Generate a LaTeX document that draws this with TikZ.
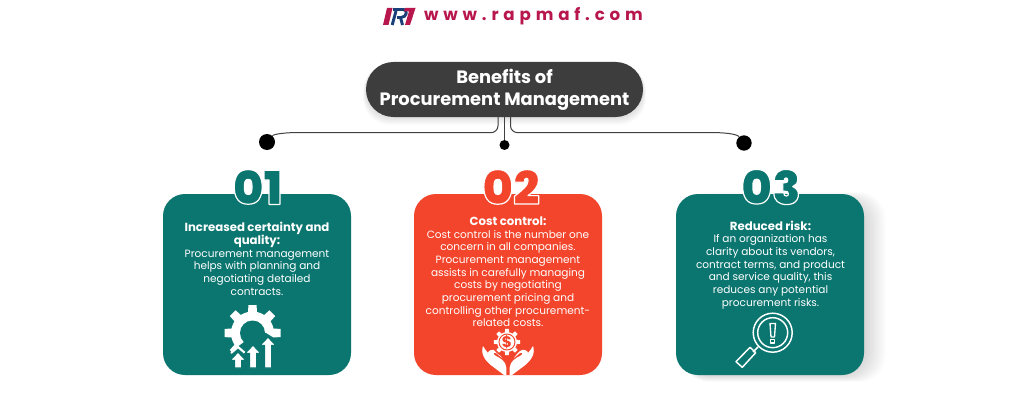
\documentclass[tikz,border=0pt]{standalone}
\usepackage{fontspec}
\setmainfont{Poppins}
\newfontfamily\numfont{Poppins Black}
\usetikzlibrary{calc}
\definecolor{tealc}{HTML}{0B7670}
\definecolor{redc}{HTML}{F2452B}
\definecolor{pillc}{HTML}{3D3D3D}
\definecolor{crim}{HTML}{B8174E}
\definecolor{navyc}{HTML}{1B3F78}
\newcommand{\outlined}[1]{\special{pdf:code 2 Tr .9 w 1 1 1 RG 1 j}#1\special{pdf:code 0 Tr 0 w}}
\newcommand{\upar}[3]{% x, top, bottom
  \fill[white,draw=tealc,line width=.9pt,line join=miter] (#1-8,#2+8.5) -- (#1,#2) -- (#1+8,#2+8.5) -- (#1+3.6,#2+8.5) -- (#1+3.6,#3) -- (#1-3.6,#3) -- (#1-3.6,#2+8.5) -- cycle;}
\newcommand{\gearshape}[5]{% cx, cy, body r, tooth r, teeth
  \fill[white] (#1,#2) circle[radius=#3];
  \foreach \a in {1,...,#5}{
    \fill[white,shift={(#1,#2)},rotate=\a*360/#5] (-#3*.26,0) -- (-#3*.19,-#4) -- (#3*.19,-#4) -- (#3*.26,0) -- cycle;}}
\tikzset{
  card/.style={rounded corners=16.5pt,minimum width=141pt,minimum height=135.75pt,inner sep=0pt},
  bodytext/.style={text=white,align=center,font=\fontsize{7.9}{9.5}\selectfont,inner sep=0pt},
  numtext/.style={font=\fontsize{35}{35}\selectfont\numfont,inner sep=0pt},
  dotn/.style={circle,fill=black,inner sep=0pt},
  conn/.style={draw=black!75,line width=.75pt},
  iconline/.style={draw=white,line width=1.1pt,line join=round},
  logostroke/.style={line width=2.2pt,line join=miter}
}
\newcommand{\hd}{\fontsize{8.8}{9.5}\selectfont\bfseries}
\begin{document}
\begin{tikzpicture}[x=.75pt,y=-.75pt]
\useasboundingbox (0,0) rectangle (1024,403);
\fill[white] (0,0) rectangle (1024,403);
% logo
\fill[crim] (383,25) -- (387,8) -- (392.5,8) -- (388.5,25) -- cycle;
\draw[navyc,logostroke] (392.2,25) -- (396,11);
\draw[navyc,logostroke] (393,9.5) -- (403.5,9.5) .. controls (408,9.5) and (407,17.5) .. (401,17.5) -- (397,17.5);
\draw[navyc,logostroke] (400.5,17.5) -- (402.5,25);
\fill[crim] (405,8) -- (415.5,8) -- (410,25) -- (405,25) -- (409,11.5) -- (404,11.5) -- cycle;
\node[inner sep=0pt,text=crim] (site) at (533.5,16) {\fontsize{12.5}{14}\selectfont\bfseries\addfontfeature{LetterSpace=29}www.rapmaf.com};
% shadows
\foreach \k in {1,...,20}{
  \fill[black,opacity=.008,rounded corners=20pt] (682,200-\k*.4) rectangle (864+\k*1.1,375+\k*.35);
}
\foreach \k in {1,...,10}{
  \fill[black,opacity=.012,rounded corners=20pt] (366-\k*.3,64) rectangle (643+\k*.3,117+\k*.8);
}
% title
\node[rounded corners=20.6pt,fill=pillc,minimum width=207.75pt,minimum height=41.25pt,inner sep=0pt,text=white,align=center,font=\fontsize{13.4}{16.5}\selectfont\bfseries] (title) at (504.5,89.5) {Benefits of\\Procurement Management};
% connectors
\node[dotn,minimum size=12pt] (dotL) at (267,142) {};
\node[dotn,minimum size=7.5pt] (dotM) at (504.5,145) {};
\node[dotn,minimum size=11.5pt] (dotR) at (744,143) {};
\coordinate (pl) at (498,117);
\coordinate (pm) at (504.5,117);
\coordinate (pr) at (510.5,117);
\draw[conn] (pl) -- ++(0,9) .. controls +(0,4) and +(2,0) .. ++(-6,6.5) -- (300,132.5) .. controls (285,132.5) and (274,134) .. (dotL);
\draw[conn] (pm) -- (dotM);
\draw[conn] (pr) -- ++(0,9) .. controls +(0,4) and +(-2,0) .. ++(6,6.5) -- (710,132.5) .. controls (725,132.5) and (737,134) .. (dotR);
% cards
\node[card,fill=tealc] (c1) at (257,284.5) {};
\node[card,fill=redc] (c2) at (508,284.5) {};
\node[card,fill=tealc] (c3) at (770,284.5) {};
% numbers
\node[numtext,text=tealc] (n1) at (257.5,187) {\outlined{01}};
\node[numtext,text=redc] (n2) at (511,187) {\outlined{02}};
\node[numtext,text=tealc] (n3) at (771,187) {\outlined{03}};
% texts
\node[bodytext] (t1) at (257,259) {\hd Increased certainty and\\\hd quality:\\Procurement management\\helps with planning and\\negotiating detailed\\contracts.};
\node[bodytext] (t2) at (508,272) {\hd Cost control:\\Cost control is the number one\\concern in all companies.\\Procurement management\\assists in carefully managing\\costs by negotiating\\procurement pricing and\\controlling other procurement-\\related costs.};
\node[bodytext] (t3) at (770.5,265) {\hd Reduced risk:\\If an organization has\\clarity about its vendors,\\contract terms, and product\\and service quality, this\\reduces any potential\\procurement risks.};
% icon 1
\gearshape{252.5}{333}{21.5}{28}{8}
\fill[tealc] (252.5,333) circle[radius=12.5];
\fill[tealc] (240,345) -- (252,336) -- (266,333) -- (282,343) -- (285,372) -- (225,372) -- (225,353) -- (231,352) -- cycle;
\draw[white,line width=1.6pt] (231,353) -- (238,347) -- (245,353);
\upar{238}{352}{368}
\upar{253}{345}{368}
\upar{268}{337}{368}
% icon 2
\foreach \s in {-1,1}{
  \fill[white] (508+\s*25,346) .. controls (508+\s*27.5,353) and (508+\s*24,360) .. (508+\s*16,366) -- (508+\s*4,375) -- (508+\s*1.6,375) -- (508+\s*1.6,368) .. controls (508+\s*2,361) and (508+\s*8,358) .. (508+\s*12,356) .. controls (508+\s*15,354.5) and (508+\s*15,352) .. (508+\s*12,353) -- (508+\s*6,358) .. controls (508+\s*10,352) and (508+\s*13,349) .. (508+\s*17,350) .. controls (508+\s*19,350.5) and (508+\s*20,352) .. (508+\s*20,353) .. controls (508+\s*22,351) and (508+\s*23,349) .. cycle;
}
\fill[redc] (507,342) circle[radius=15];
\gearshape{507}{342}{10}{13.2}{8}
\draw[redc,line width=.7pt] (507,342) circle[radius=8];
\node[inner sep=0pt,text=redc,font=\fontsize{11.5}{11.5}\selectfont\bfseries] (dollar) at (507,342) {\$};
% icon 3
\draw[iconline] (772.7,332.7) circle[radius=19.5];
\draw[iconline] (772.7,332.7) circle[radius=15];
\draw[iconline] (758,347) -- (753,352);
\draw[iconline] (750,347.3) -- (755.7,352.7) -- (742.3,367.3) -- (736,361.7) -- cycle;
\draw[iconline,line width=1pt] (770,323.5) -- (775.5,323.5) -- (774.5,337) -- (771,337) -- cycle;
\draw[iconline,line width=1pt] (770.8,339.3) rectangle (774.8,343);
\end{tikzpicture}
\end{document}
